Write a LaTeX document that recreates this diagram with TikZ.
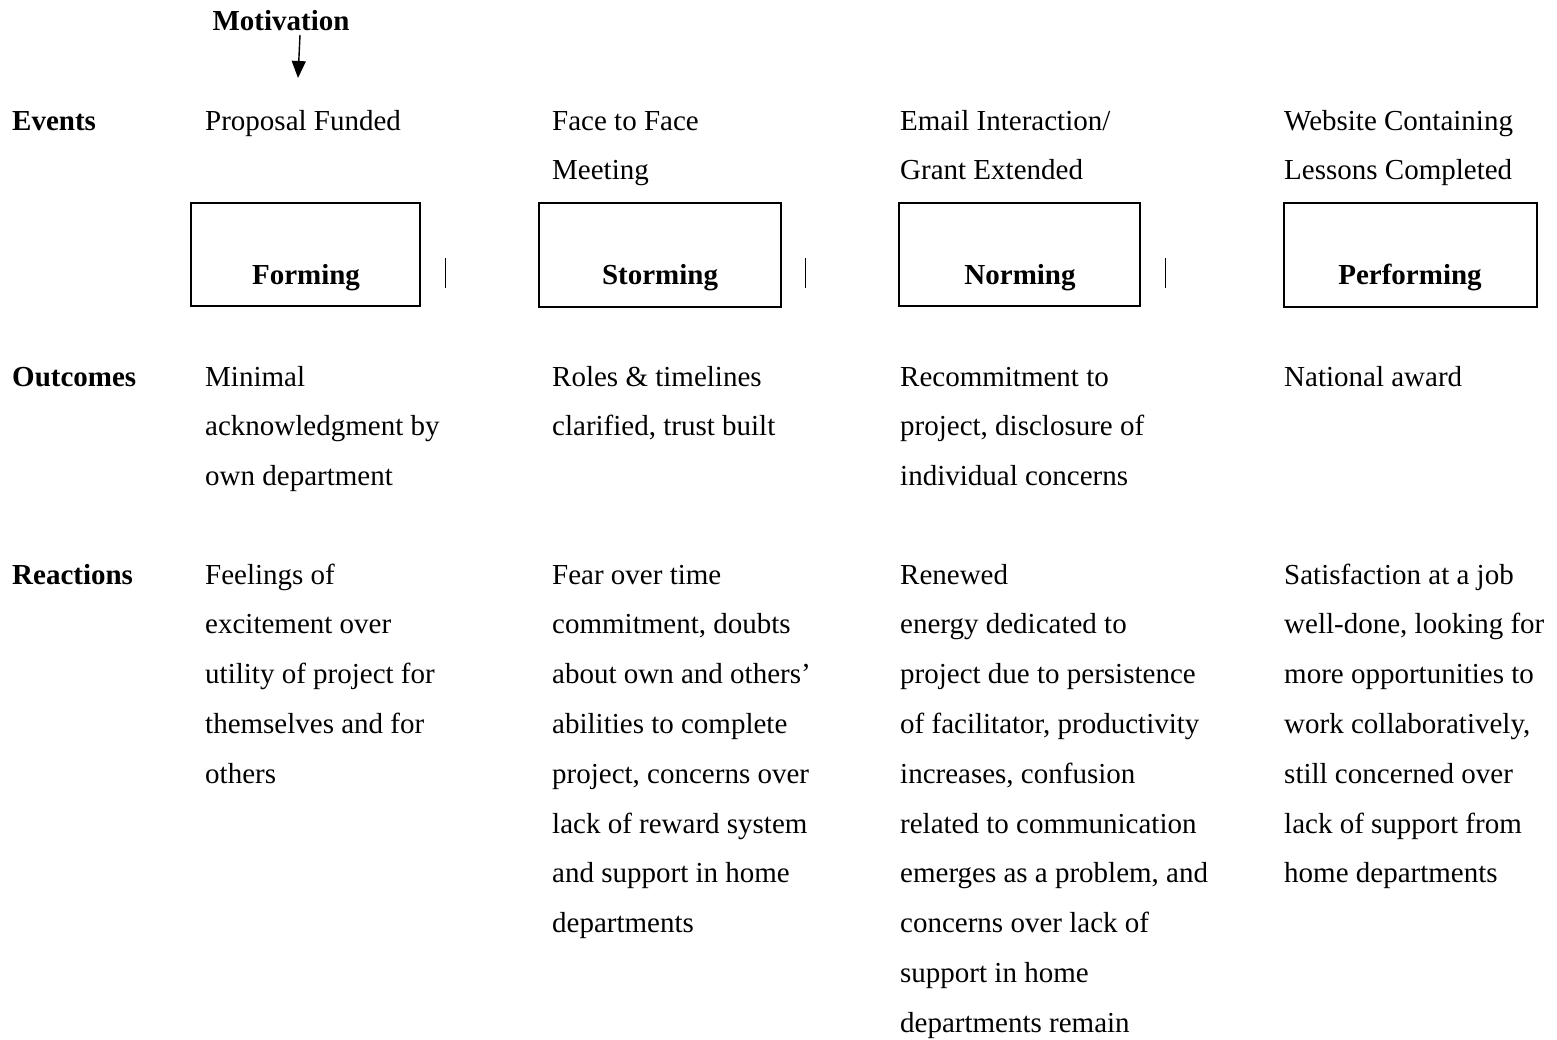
\documentclass[tikz,border=0pt]{standalone}
\usepackage{fontspec}
\setmainfont{Liberation Serif}
\usetikzlibrary{arrows.meta}
\newcommand{\para}[1]{\parbox[t]{330pt}{\raggedright\fontsize{29}{49.8}\selectfont #1}}
\begin{document}
\begin{tikzpicture}[x=1pt,y=-1pt,
  txt/.style={anchor=base west,inner sep=0pt,font=\fontsize{29}{49.8}\selectfont},
  lbl/.style={anchor=base west,inner sep=0pt,font=\fontsize{29}{49.8}\selectfont\bfseries},
  stagebox/.style={draw,line width=2.6pt,inner sep=0pt},
  sep/.style={line width=1pt}]
\useasboundingbox (0,0) rectangle (1557,1039);
% top
\node[inner sep=0pt,font=\fontsize{29}{34}\selectfont\bfseries] (mot) at (281,21) {Motivation};
\coordinate (motA) at (300,35);
\coordinate (motB) at (298,78);
\draw[line width=1.4pt,-{Triangle[length=17pt,width=14pt]}] (motA) -- (motB);
% row labels
\node[lbl] (ev) at (12,130) {Events};
\node[lbl] (oc) at (12,386) {Outcomes};
\node[lbl] (re) at (12,584) {Reactions};
% events
\node[txt] (e1) at (205,130) {\para{Proposal Funded}};
\node[txt] (e2) at (552,130) {\para{Face to Face\\Meeting}};
\node[txt] (e3) at (900,130) {\para{Email Interaction/\\Grant Extended}};
\node[txt] (e4) at (1284,130) {\para{Website Containing\\Lessons Completed}};
% boxes
\draw[stagebox,line width=1.8pt] (191,203) rectangle (420,306);
\draw[stagebox] (539,203) rectangle (781,307);
\draw[stagebox] (899,203) rectangle (1140,306);
\draw[stagebox] (1284,203) rectangle (1537,307);
\node[inner sep=0pt,font=\fontsize{29}{34}\selectfont\bfseries,anchor=base] (s1) at (306,284) {Forming};
\node[inner sep=0pt,font=\fontsize{29}{34}\selectfont\bfseries,anchor=base] (s2) at (660,284) {Storming};
\node[inner sep=0pt,font=\fontsize{29}{34}\selectfont\bfseries,anchor=base] (s3) at (1020,284) {Norming};
\node[inner sep=0pt,font=\fontsize{29}{34}\selectfont\bfseries,anchor=base] (s4) at (1410,284) {Performing};
% separators
\draw[sep] (445,258) -- (445,288);
\draw[sep] (805,258) -- (805,288);
\draw[sep] (1165,258) -- (1165,288);
% outcomes
\node[txt] (o1) at (205,386) {\para{Minimal\\acknowledgment by\\own department}};
\node[txt] (o2) at (552,386) {\para{Roles \& timelines\\clarified, trust built}};
\node[txt] (o3) at (900,386) {\para{Recommitment to\\project, disclosure of\\individual concerns}};
\node[txt] (o4) at (1284,386) {\para{National award}};
% reactions
\node[txt] (r1) at (205,584) {\para{Feelings of\\excitement over\\utility of project for\\themselves and for\\others}};
\node[txt] (r2) at (552,584) {\para{Fear over time\\commitment, doubts\\about own and others’\\abilities to complete\\project, concerns over\\lack of reward system\\and support in home\\departments}};
\node[txt] (r3) at (900,584) {\para{Renewed\\energy dedicated to\\project due to persistence\\of facilitator, productivity\\increases, confusion\\related to communication\\emerges as a problem, and\\concerns over lack of\\support in home\\departments remain}};
\node[txt] (r4) at (1284,584) {\para{Satisfaction at a job\\well-done, looking for\\more opportunities to\\work collaboratively,\\still concerned over\\lack of support from\\home departments}};
\end{tikzpicture}
\end{document}
